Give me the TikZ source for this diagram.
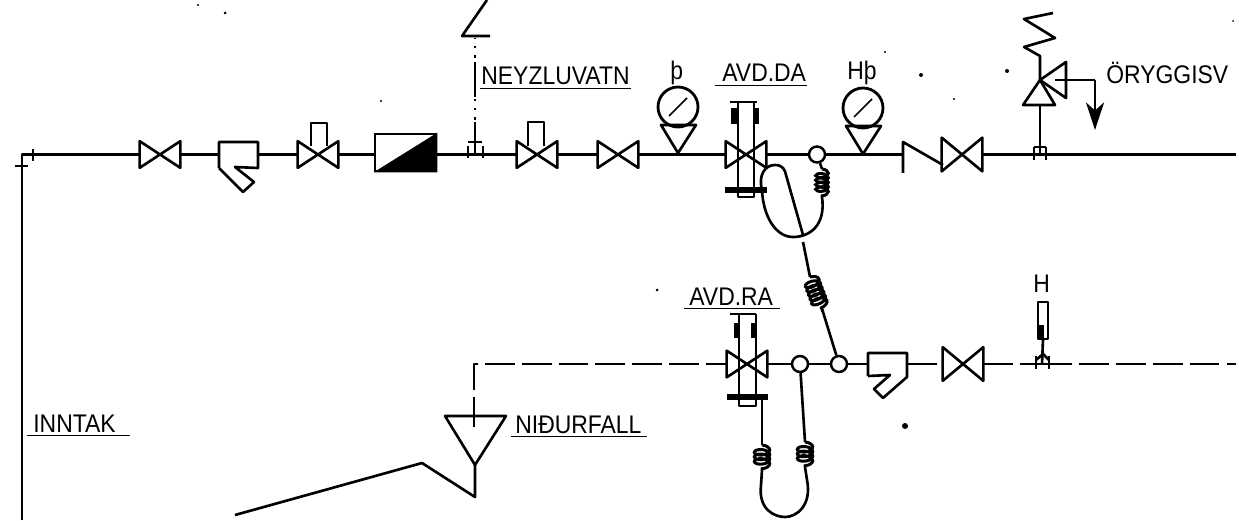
\documentclass[tikz,border=0pt]{standalone}
\usepackage{fontspec}
\setmainfont[FakeStretch=0.9]{Liberation Sans}
\usetikzlibrary{arrows.meta,decorations.pathmorphing}
\begin{document}
\begin{tikzpicture}
		[x=0.02cm,y=-0.02cm,
		pipe/.style={line width=1.5pt,line join=round},
		drain/.style={pipe,dash pattern=on 17pt off 4pt},
		thinline/.style={line width=0.9pt},
		heavy/.style={line width=3pt},
		valve/.style={rectangle,inner sep=0pt,minimum width=0.8cm,minimum height=0.52cm},
		tallvalve/.style={valve,minimum height=0.66cm},
		strainer/.style={rectangle,inner sep=0pt,minimum width=0.78cm,minimum height=0.5cm},
		junction/.style={circle,draw,fill=white,line width=1.4pt,inner sep=0pt,minimum size=0.32cm},
		gauge/.style={circle,draw,line width=1.6pt,inner sep=0pt,minimum size=0.8cm},
		tag/.style={anchor=base west,inner sep=0pt,font=\fontsize{14.5}{16}\selectfont},
		coilline/.style={line width=1.7pt,decorate,decoration={coil,aspect=0.5,segment length=2.6pt,amplitude=4.4pt,pre length=0pt,post length=0pt}}]
		\useasboundingbox (0,0) rectangle (1239,520);
		% upper line
		\coordinate (corner) at (22,154.5);
		\coordinate (inlet) at (22,520);
		\node at (160,154.5) (v1) [valve] {};
		\node at (238.5,154.5) (st1) [strainer] {};
		\node at (318,154.5) (v2) [valve] {};
		\node at (405.5,152.5) (filter) [rectangle,draw,line width=1.5pt,inner sep=0pt,minimum width=1.22cm,minimum height=0.74cm] {};
		\node at (537,154.5) (v3) [valve] {};
		\node at (618,154.5) (v4) [valve] {};
		\node at (678,107) (g1) [gauge] {};
		\node at (746,154.5) (v5) [valve] {};
		\node at (817,154.5) (j1) [junction] {};
		\node at (863,108) (g2) [gauge] {};
		\node at (962,154.5) (v6) [tallvalve] {};
		\coordinate (chk) at (903,154.5);
		\coordinate (tee) at (1040,154.5);
		\coordinate (outlet) at (1236,154.5);
		% lower line
		\node at (747,364) (v7) [valve] {};
		\node at (800,364) (j2) [junction] {};
		\node at (839,364) (j3) [junction] {};
		\node at (887.5,364) (st2) [strainer] {};
		\node at (963,364) (v8) [tallvalve] {};
		\coordinate (hfoot) at (1042,364);
		\coordinate (drainend) at (1236,364);
		\coordinate (bend) at (474,364);
		\coordinate (dip) at (474,427);
		\coordinate (apex) at (475,465);
		\coordinate (toe) at (475,497);
		\coordinate (ridge) at (422,463);
		\coordinate (floor) at (235,515);
		% labels
		\node at (33,432) (innt) [tag] {INNTAK};
		\node at (481,85) (neyz) [tag] {NEYZLUVATN};
		\node at (722,82) (avdda) [tag] {AVD.DA};
		\node at (689,305) (avdra) [tag] {AVD.RA};
		\node at (515,433) (nidur) [tag] {NIÐURFALL};
		\node at (1106,84) (oryg) [tag] {ÖRYGGISV};
		\node at (670,80) (thorn) [tag] {þ};
		\node at (847,80) (hthorn) [tag] {Hþ};
		\node at (1033,292) (hlab) [tag] {H};
		\foreach \t/\l/\r in {innt/-6/14,neyz/-1/1,avdda/-7/1,avdra/-5/7,nidur/-4/5}
			\draw [thinline] ([shift={(\l,3.5)}]\t.base west) -- ([shift={(\r,3.5)}]\t.base east);
		% pipes
		\draw [pipe] (inlet) -- (corner) -- (v1.west);
		\draw [pipe] (v1.east) -- (st1.west);
		\draw [pipe] (st1.east) -- (v2.west);
		\draw [pipe] (v2.east) -- (v2.east -| filter.west);
		\draw [pipe] (v3.west -| filter.east) -- (v3.west);
		\draw [pipe] (v3.east) -- (v4.west);
		\draw [pipe] (v4.east) -- (v5.west);
		\draw [pipe] (v5.east) -- (j1.west);
		\draw [pipe] (j1.east) -- (chk);
		\draw [pipe] (v6.east) -- (outlet);
		\draw [drain] (dip) -- (bend) -- (v7.west);
		\draw [pipe] (v7.east) -- (j2.west);
		\draw [pipe] (j2.east) -- (j3.west);
		\draw [pipe] (j3.east) -- (st2.west);
		\draw [drain] (st2.east) -- (v8.west);
		\draw [drain] (v8.east) -- (hfoot);
		\draw [drain] (hfoot) -- (drainend);
		\draw [pipe] (33,149) -- (33,161);
		\draw [pipe] (15,166) -- (28,166);
		% valves
		\foreach \v in {v1,v2,v3,v4,v5,v6,v7,v8}
			\draw [pipe] (\v.north west) -- (\v.south east) -- (\v.north east) -- (\v.south west) -- cycle;
		% strainers
		\draw [pipe] (219,168) -- (219,142) -- (258,142) -- (258,168) -- (235,167) -- (254,182) -- (243,192) -- (219,168);
		\draw [pipe] (868,376) -- (868,353) -- (907,353) -- (907,377) -- (883,398) -- (874,389) -- (890,375) -- (868,376);
		% filter, stems
		\fill (filter.south west) -- (filter.north east) -- (filter.south east) -- cycle;
		\draw [pipe] (311,146) -- (311,123) -- (327,123) -- (327,146);
		\draw [pipe] (528,146) -- (528,122) -- (544,122) -- (544,146);
		% gauges
		\foreach \g in {g1,g2} {
			\draw [pipe,shift={(\g.center)}] (-17,18) -- (18,18) -- (0,46) -- cycle;
			\draw [thinline,shift={(\g.center)}] (-9,9) -- (9,-9);
		}
		% actuator upper
		\draw [pipe] (738,102) -- (738,197) -- (754,197) -- (754,102);
		\draw [pipe] (730,102) -- (757,102);
		\draw [heavy] (734,108) -- (734,124);
		\draw [heavy] (756,108) -- (756,124);
		\draw [heavy] (725,190) -- (767,190);
		% actuator lower
		\draw [pipe] (739,314) -- (739,406) -- (756,406) -- (756,314);
		\draw [pipe] (730,314) -- (756,314);
		\draw [heavy] (737,323) -- (737,338);
		\draw [heavy] (754,323) -- (754,338);
		\draw [line width=3.6pt] (727,397) -- (768,397);
		% loops
		\coordinate (topc) at (822,169);
		\coordinate (botc) at (822,197);
		\draw [pipe] (j1) -- (topc);
		\draw [coilline,decoration={amplitude=3.6pt}] (topc) -- (botc);
		\draw [pipe] (botc) .. controls (826,225) and (810,237) .. (793,237)
			.. controls (775,237) and (763,215) .. (762,190)
			.. controls (758,175) and (765,165) .. (775,165)
			.. controls (783,165) and (785,170) .. (786,175) -- (803,235);
		\coordinate (link1) at (803,242);
		\coordinate (link2) at (810,277);
		\coordinate (link3) at (823,312);
		\draw [pipe] (link1) -- (link2);
		\draw [coilline] (link2) -- (link3);
		\draw [pipe] (link3) -- (j3);
		\coordinate (lc1) at (762,445);
		\coordinate (lc2) at (762,470);
		\coordinate (lc3) at (805,442);
		\coordinate (lc4) at (805,467);
		\draw [pipe] (762,397) -- (lc1);
		\draw [coilline] (lc1) -- (lc2);
		\draw [pipe] (j2) -- (lc3);
		\draw [coilline] (lc3) -- (lc4);
		\draw [pipe] (lc2) -- (761,485) .. controls (758,510) and (775,517) .. (785,517)
			.. controls (797,517) and (812,505) .. (807,480) -- (lc4);
		% water inlet riser
		\draw [pipe] (468,146) -- (468,158);
		\draw [pipe] (483,146) -- (483,158);
		\draw [pipe] (468,142) -- (482,142);
		\draw [pipe] (475,153) -- (475,122);
		\draw [pipe,dash pattern=on 1.5pt off 4pt] (475,120) -- (475,99);
		\draw [pipe] (475,97) -- (475,62);
		\draw [pipe,dash pattern=on 1.5pt off 4pt] (475,58) -- (475,38);
		\draw [pipe] (490,36) -- (462,36) -- (487,0);
		% relief valve
		\draw [pipe] (1034,147) -- (1034,160);
		\draw [pipe] (1046,147) -- (1046,160);
		\draw [pipe] (1034,147) -- (1046,147);
		\draw [pipe] (tee) -- (1040,105);
		\draw [pipe] (1023,105) -- (1055,105) -- (1040,80) -- cycle;
		\draw [pipe] (1040,80) -- (1066,62) -- (1066,98) -- cycle;
		\draw [pipe] (1040,80) -- (1040,56) -- (1024,47) -- (1055,38) -- (1024,19) -- (1053,13);
		\coordinate (vent) at (1095,80);
		\coordinate (venttip) at (1095,130);
		\draw [pipe] (1055,80) -- (vent);
		\draw [pipe,-{Stealth[length=0.55cm,width=0.36cm,inset=0.16cm]}] (vent) -- (venttip);
		% check valve
		\draw [pipe] (903,173) -- (903,142) -- (943,165);
		% level glass
		\draw [pipe] (1038,339) -- (1038,302) -- (1048,302) -- (1048,339) -- cycle;
		\draw [heavy] (1041,325) -- (1041,339);
		\draw [pipe] (1043,339) -- (hfoot);
		\draw [pipe] (1036,356) -- (1036,369);
		\draw [pipe] (1049,356) -- (1049,369);
		\draw [pipe] (1036,360) -- (1043,354) -- (1049,360);
		% funnel
		\draw [pipe] (445,416) -- (506,416) -- (apex) -- cycle;
		\draw [pipe] (apex) -- (toe) -- (ridge) -- (floor);
		% specks
		\foreach \x/\y/\r in {198/5/1.2,225/13/1.5,381/101/1.2,921/75/2,1007/71/2,954/99/1.2,885/52/1.2,657/290/1.5,905/426/3,1233/21/1}
			\fill (\x,\y) circle (\r);
	\end{tikzpicture}
\end{document}
